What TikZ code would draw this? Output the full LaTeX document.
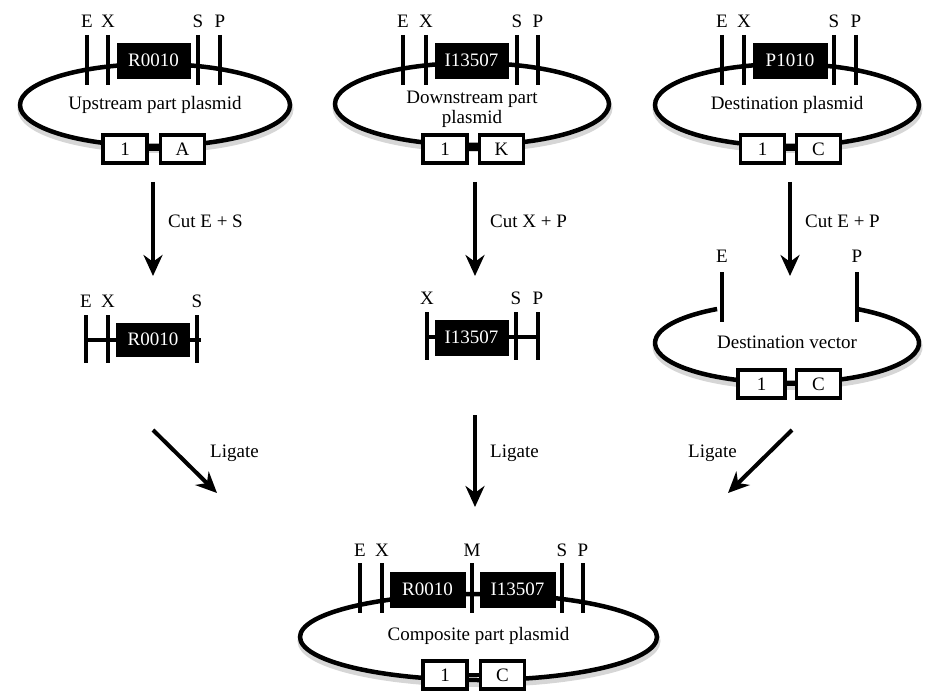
\documentclass[tikz,border=0pt]{standalone}
\usepackage{fontspec}
\setmainfont{Liberation Serif}
\usetikzlibrary{shapes.geometric,arrows.meta}
\begin{document}
\begin{tikzpicture}[x=1pt,y=-1pt,
  plas/.style={ellipse, draw, line width=4.5pt, fill=white, inner sep=0pt},
  shad/.style={draw=black, line width=6pt, opacity=0.16},
  cutline/.style={line width=3.5pt},
  part/.style={fill=black, draw=black, text=white, minimum width=73pt, minimum height=35pt,
    inner sep=0pt, font=\fontsize{19}{20}\selectfont},
  mkbox/.style={draw, fill=white, line width=3.5pt, minimum width=44pt, minimum height=28pt,
    inner sep=0pt, font=\fontsize{19}{20}\selectfont},
  lab/.style={font=\fontsize{19}{20}\selectfont, inner sep=0pt},
  txt/.style={font=\fontsize{19}{20}\selectfont, inner sep=0pt, align=center},
  arr/.style={line width=4pt, -{Stealth[length=21pt,width=19pt]}}
]
\useasboundingbox (0,0) rectangle (927,698);

% ---------- shadows ----------
\draw[shad] (155.5,109) ellipse[x radius=135, y radius=41];
\draw[shad] (472.5,108) ellipse[x radius=137, y radius=41];
\draw[shad] (787.5,109) ellipse[x radius=132, y radius=41];
\draw[shad] (479,641) ellipse[x radius=178.5, y radius=43];
\draw[shad] (857.5,313) arc[start angle=-58, end angle=238, x radius=132, y radius=40];

% ---------- Upstream part plasmid ----------
\node[plas, minimum width=270pt, minimum height=82pt] (p1) at (155,105) {};
\node[txt] (t1) at (155,105) {Upstream part plasmid};
\foreach \x/\l in {87/E,108/X,198/S,220/P}{
  \draw[cutline] (\x,35) -- (\x,85);
  \node[lab] at (\x,21) {\l};}
\node[part] (r1) at (153.5,60.5) {R0010};
\node[mkbox] (p1m1) at (125,149) {1};
\node[mkbox] (p1m2) at (182.5,149) {A};
\draw[line width=3.5pt] (p1m1.east) -- (p1m2.west);

% ---------- Downstream part plasmid ----------
\node[plas, minimum width=274pt, minimum height=82pt] (p2) at (472,104) {};
\node[txt] (t2) at (472,109) {Downstream part\\plasmid};
\foreach \x/\l in {403/E,426/X,517/S,538/P}{
  \draw[cutline] (\x,35) -- (\x,85);
  \node[lab] at (\x,21) {\l};}
\node[part] (i2) at (471.5,60.5) {I13507};
\node[mkbox] (p2m1) at (445,149) {1};
\node[mkbox] (p2m2) at (501.5,149) {K};
\draw[line width=3.5pt] (p2m1.east) -- (p2m2.west);

% ---------- Destination plasmid ----------
\node[plas, minimum width=264pt, minimum height=82pt] (p3) at (787,105) {};
\node[txt] (t3) at (787,105) {Destination plasmid};
\foreach \x/\l in {722/E,744/X,834/S,856/P}{
  \draw[cutline] (\x,35) -- (\x,85);
  \node[lab] at (\x,21) {\l};}
\node[part, minimum width=74pt] (pp3) at (790,60.5) {P1010};
\node[mkbox] (p3m1) at (762.5,149) {1};
\node[mkbox] (p3m2) at (818.5,149) {C};
\draw[line width=3.5pt] (p3m1.east) -- (p3m2.west);

% ---------- Cut arrows ----------
\coordinate (c1s) at (153,182); \coordinate (c1e) at (153,276);
\coordinate (c2s) at (475,182); \coordinate (c2e) at (475,276);
\coordinate (c3s) at (790,182); \coordinate (c3e) at (790,276);
\draw[arr] (c1s) -- (c1e);
\draw[arr] (c2s) -- (c2e);
\draw[arr] (c3s) -- (c3e);
\node[txt, anchor=west] at (168,221) {Cut E + S};
\node[txt, anchor=west] at (490,221) {Cut X + P};
\node[txt, anchor=west] at (805,221) {Cut E + P};

% ---------- Fragment R0010 ----------
\draw[line width=3.5pt] (86,340) -- (201,340);
\foreach \x/\l in {86/E,108/X,197/S}{
  \draw[cutline] (\x,315) -- (\x,363);
  \node[lab] at (\x,301) {\l};}
\node[part, minimum height=33pt] (f1) at (153,339.5) {R0010};

% ---------- Fragment I13507 ----------
\draw[line width=3.5pt] (427,337) -- (538,337);
\foreach \x/\l in {427/X,516/S,538/P}{
  \draw[cutline] (\x,312) -- (\x,360);
  \node[lab] at (\x,298) {\l};}
\node[part, minimum height=35pt] (f2) at (471.5,337.5) {I13507};

% ---------- Destination vector ----------
\path[fill=white] (857,309) arc[start angle=-58, end angle=238, x radius=132, y radius=40] -- cycle;
\draw[line width=4.5pt] (857,309) arc[start angle=-58, end angle=238, x radius=132, y radius=40];
\node[txt] (dv) at (787,342) {Destination vector};
\draw[cutline] (722,272) -- (722,322);
\draw[cutline] (857,272) -- (857,322);
\node[lab] at (722,256) {E};
\node[lab] at (857,256) {P};
\node[mkbox, minimum width=47pt] (dvm1) at (761.5,384) {1};
\node[mkbox] (dvm2) at (818.5,384) {C};
\draw[line width=3.5pt] (dvm1.east) -- (dvm2.west);

% ---------- Ligate arrows ----------
\coordinate (l1s) at (153,430); \coordinate (l1e) at (217,493);
\coordinate (l2s) at (475,415); \coordinate (l2e) at (475,507);
\coordinate (l3s) at (792,430); \coordinate (l3e) at (728,493);
\draw[arr] (l1s) -- (l1e);
\draw[arr] (l2s) -- (l2e);
\draw[arr] (l3s) -- (l3e);
\node[txt, anchor=west] at (210,453) {Ligate};
\node[txt, anchor=west] at (490,453) {Ligate};
\node[txt, anchor=west] at (688,453) {Ligate};

% ---------- Composite part plasmid ----------
\node[plas, minimum width=357pt, minimum height=86pt] (pc) at (478.5,637) {};
\node[txt] (tc) at (478.5,636) {Composite part plasmid};
\foreach \x/\l in {360/E,382/X,472/M,562/S,583/P}{
  \draw[cutline] (\x,563) -- (\x,613);
  \node[lab] at (\x,550) {\l};}
\node[part, minimum width=75pt] (cr) at (427.5,589.5) {R0010};
\node[part, minimum width=75pt] (ci) at (517.5,589.5) {I13507};
\node[mkbox] (pcm1) at (445,675) {1};
\node[mkbox] (pcm2) at (502.5,675) {C};
\draw[line width=3.5pt] (pcm1.east) -- (pcm2.west);
\end{tikzpicture}
\end{document}
